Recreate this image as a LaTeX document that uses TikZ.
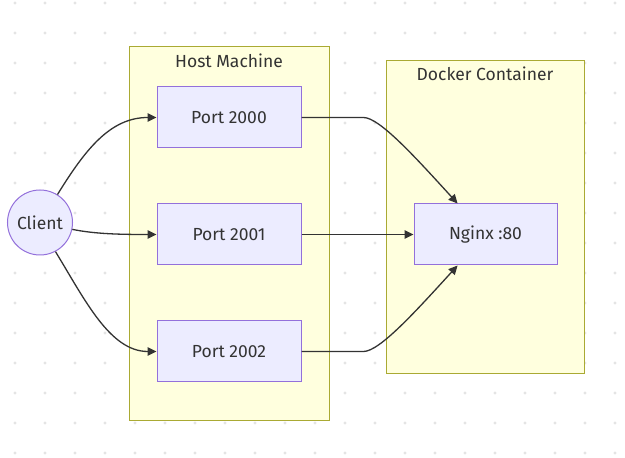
\documentclass[tikz,border=0pt]{standalone}
\usepackage{fontspec}
\setmainfont{Fira Sans}
\usetikzlibrary{arrows.meta}
\definecolor{GridDot}{HTML}{E4E4E4}
\definecolor{GroupFill}{HTML}{FFFFDE}
\definecolor{GroupLine}{HTML}{AAAA33}
\definecolor{BoxFill}{HTML}{ECECFF}
\definecolor{BoxLine}{HTML}{9370DB}
\definecolor{InkGrey}{HTML}{333333}
\begin{document}
\begin{tikzpicture}[x=1pt,y=1pt,>={Triangle[length=9pt,width=8.5pt]},every node/.style={font=\fontsize{17.5}{21}\selectfont,text=InkGrey},
  group/.style={draw=GroupLine,fill=GroupFill,line width=1pt},
  port/.style={draw=BoxLine,fill=BoxFill,line width=1pt,minimum width=144pt,minimum height=61pt},
  link/.style={InkGrey,line width=1.3pt,->}]
\fill[white] (0,0) rectangle (625,458);
\foreach \i in {0,...,20} \foreach \j in {0,...,15} \fill[GridDot] (15+30*\i,455-30*\j) circle (1.6pt);
\draw[group] (129,37) rectangle (329,411); \node (hostlbl) at (229,397){Host Machine};
\draw[group] (386,84) rectangle (584,397); \node (dockerlbl) at (485,384){Docker Container};
\node[port] (p0) at (229,340.5){Port 2000}; \node[port] (p1) at (229,223.5){Port 2001}; \node[port] (p2) at (229,106.5){Port 2002};
\node[port,minimum width=143pt] (ng) at (485.5,223.5){Nginx :80};
\node[draw=BoxLine,fill=BoxFill,line width=1pt,circle,minimum size=65pt,inner sep=0pt] (cl) at (40,235.5){Client};
\draw[link] (cl.58) .. controls (85,308) and (110,340.5) .. (p0.west);
\draw[link] (cl.-12) .. controls (95,224) and (120,223.5) .. (p1.west);
\draw[link] (cl.-62) .. controls (85,158) and (110,106.5) .. (p2.west);
\draw[link] (p0.east) -- ++(62,0) .. controls +(16,0) and +(-42,46) .. (ng.132);
\draw[link] (p1.east) -- (ng.west);
\draw[link] (p2.east) -- ++(62,0) .. controls +(16,0) and +(-42,-46) .. (ng.228);
\end{tikzpicture}
\end{document}
